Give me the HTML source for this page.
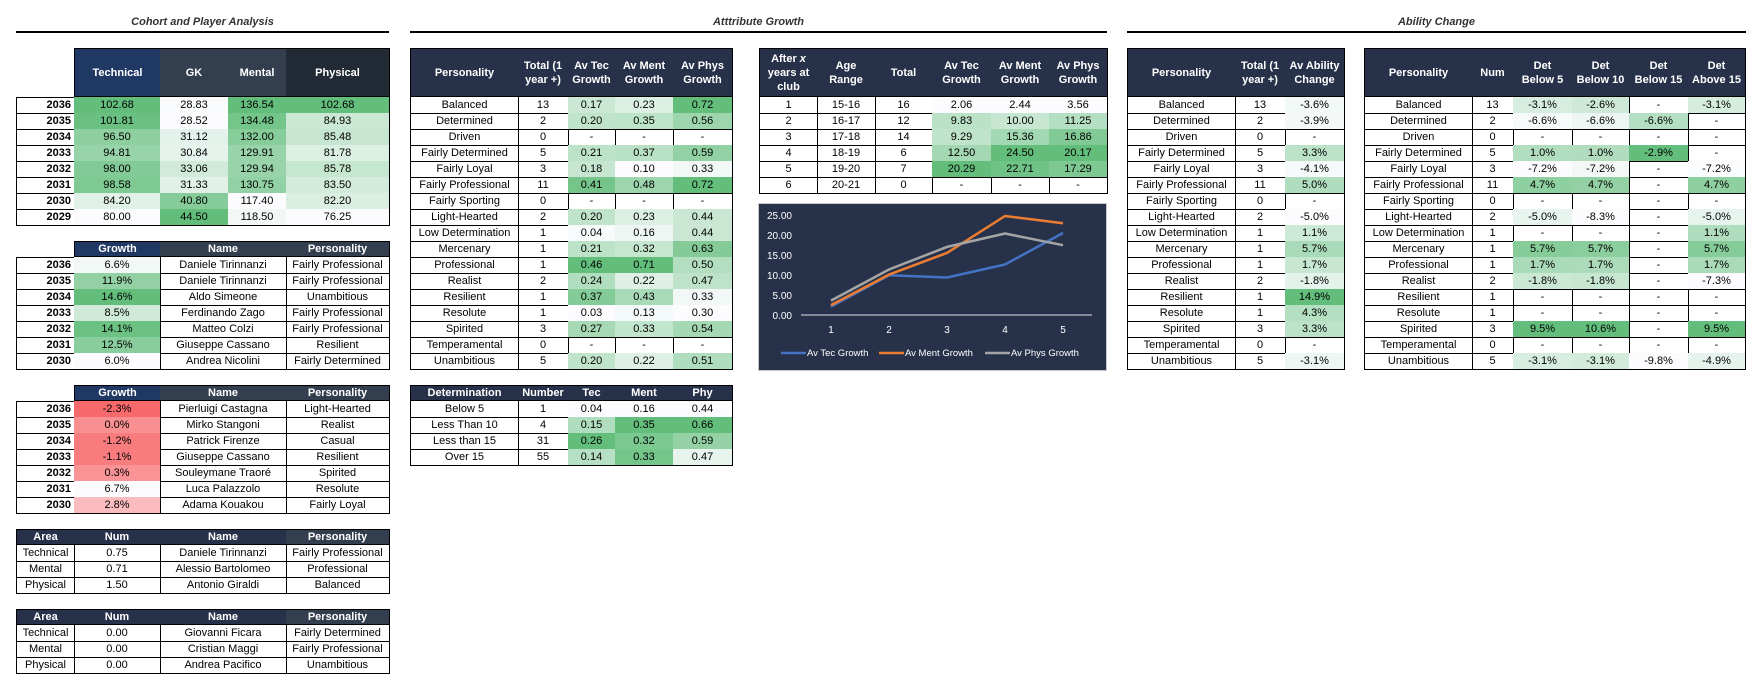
<!DOCTYPE html>
<html><head><meta charset="utf-8">
<style>
body{margin:0;width:1760px;height:683px;background:#fff;position:relative;overflow:hidden;font-family:"Liberation Sans",sans-serif;font-size:11px;color:#000}
.c{position:absolute;box-sizing:border-box;display:flex;align-items:center;justify-content:center;text-align:center;line-height:13px;white-space:nowrap}
.b{border-right:1px solid #000;border-bottom:1px solid #000}
.h{color:#fff;font-weight:bold;white-space:normal;border-right:1px solid #000;border-bottom:1px solid #000;padding:0 3px;line-height:14px}
.t{position:absolute;font-style:italic;font-weight:bold;font-size:11px;color:#333;text-align:center}
.l{position:absolute;height:2px;background:#000}
</style></head><body>
<div class="t" style="left:16px;width:373px;top:16px">Cohort and Player Analysis</div>
<div class="l" style="left:16px;width:373px;top:31px"></div>
<div class="t" style="left:410px;width:697px;top:16px">Atttribute Growth</div>
<div class="l" style="left:410px;width:697px;top:31px"></div>
<div class="t" style="left:1127px;width:619px;top:16px">Ability Change</div>
<div class="l" style="left:1127px;width:619px;top:31px"></div>

<svg style="position:absolute;left:758px;top:203px" width="349" height="168">
<rect x="0.5" y="0.5" width="348" height="167" fill="#27324a" stroke="#c8c8c8"/>
<g font-family="Liberation Sans,sans-serif" font-size="10" fill="#fff" text-anchor="end">
<text x="34" y="16">25.00</text><text x="34" y="36">20.00</text><text x="34" y="56">15.00</text><text x="34" y="76">10.00</text><text x="34" y="96">5.00</text><text x="34" y="116">0.00</text>
</g>
<line x1="43" y1="112" x2="334" y2="112" stroke="#e0e0e0" stroke-width="1"/>
<g font-family="Liberation Sans,sans-serif" font-size="10" fill="#fff" text-anchor="middle">
<text x="73" y="130">1</text><text x="131" y="130">2</text><text x="189" y="130">3</text><text x="247" y="130">4</text><text x="305" y="130">5</text>
</g>
<g fill="none" stroke-width="2.5" stroke-linejoin="round">
<polyline stroke="#4472c4" points="73,103.7 131,72.3 189,74.5 247,61.5 305,30"/>
<polyline stroke="#ed7d31" points="73,102.1 131,71.6 189,49.9 247,13 305,20.2"/>
<polyline stroke="#a5a5a5" points="73,97.6 131,66.5 189,43.9 247,30.5 305,42.2"/>
</g>
<g font-family="Liberation Sans,sans-serif" font-size="9.5" fill="#fff">
<line x1="23" y1="150" x2="48" y2="150" stroke="#4472c4" stroke-width="2.5"/><text x="49" y="153">Av Tec Growth</text>
<line x1="121" y1="150" x2="146" y2="150" stroke="#ed7d31" stroke-width="2.5"/><text x="147" y="153">Av Ment Growth</text>
<line x1="227" y1="150" x2="252" y2="150" stroke="#a5a5a5" stroke-width="2.5"/><text x="253" y="153">Av Phys Growth</text>
</g>
</svg>

<script>
const G=[99,190,123],W=[252,252,255],R=[248,105,107];
function mix(a,b,t){return 'rgb('+a.map((v,i)=>Math.round(v+(b[i]-v)*t)).join(',')+')';}
function num(s){if(s==null||s==='-'||s==='')return null;return parseFloat(String(s).replace('%',''));}
function cell(x,y,w,h,txt,cls,style){const d=document.createElement('div');d.className='c '+cls;d.style.cssText=`left:${x}px;top:${y}px;width:${w}px;height:${h}px;`+(style||'');d.innerHTML='<span>'+txt+'</span>';document.body.appendChild(d);}
function table(xs,y,hh,heads,rows,scale,opts){opts=opts||{};
  const n=xs.length-1;
  let minX=null;
  for(let i=0;i<n;i++){if(heads[i]){cell(xs[i],y,xs[i+1]-xs[i]+1,hh,heads[i][0],'h','background:'+heads[i][1]+';border-top:1px solid #000;'+(minX===null?'border-left:1px solid #000;':''));if(minX===null)minX=i;}}
  const rng=[];for(let i=0;i<n;i++){if(scale&&scale[i]){const v=rows.map(r=>num(r[i])).filter(v=>v!==null);rng[i]=[Math.min(...v),Math.max(...v)];}}
  rows.forEach((r,j)=>{const yy=y+hh+16*j;for(let i=0;i<n;i++){let st='';if(i==0)st+='border-left:1px solid #000;';if(j==0&&!heads[i])st+='border-top:1px solid #000;';
    if(scale&&scale[i]){const v=num(r[i]);if(v!==null){const [a,b]=rng[i];let t=b>a?(v-a)/(b-a):0;
      st+='background:'+(scale[i]=='g'?mix(W,G,t):mix(W,R,1-t))+';';}}
    if(opts.boldFirst&&i==0)st+='font-weight:bold;justify-content:flex-end;padding-right:3px;';
    cell(xs[i],yy,xs[i+1]-xs[i]+1,17,r[i],'b',st);}});
}
const NV='#203864',SL='#333f4f',DK='#222a35',HD='#27324a';
table([16,74,160,228,286,389],48,49,[null,['Technical',NV],['GK',SL],['Mental',SL],['Physical',DK]],
[['2036','102.68','28.83','136.54','102.68'],['2035','101.81','28.52','134.48','84.93'],['2034','96.50','31.12','132.00','85.48'],['2033','94.81','30.84','129.91','81.78'],['2032','98.00','33.06','129.94','85.78'],['2031','98.58','31.33','130.75','83.50'],['2030','84.20','40.80','117.40','82.20'],['2029','80.00','44.50','118.50','76.25']],
[0,'g','g','g','g'],{boldFirst:1});
table([16,74,160,286,389],241,16,[null,['Growth',NV],['Name',SL],['Personality',SL]],
[['2036','6.6%','Daniele Tirinnanzi','Fairly Professional'],['2035','11.9%','Daniele Tirinnanzi','Fairly Professional'],['2034','14.6%','Aldo Simeone','Unambitious'],['2033','8.5%','Ferdinando Zago','Fairly Professional'],['2032','14.1%','Matteo Colzi','Fairly Professional'],['2031','12.5%','Giuseppe Cassano','Resilient'],['2030','6.0%','Andrea Nicolini','Fairly Determined']],
[0,'g',0,0],{boldFirst:1});
table([16,74,160,286,389],385,16,[null,['Growth',NV],['Name',SL],['Personality',SL]],
[['2036','-2.3%','Pierluigi Castagna','Light-Hearted'],['2035','0.0%','Mirko Stangoni','Realist'],['2034','-1.2%','Patrick Firenze','Casual'],['2033','-1.1%','Giuseppe Cassano','Resilient'],['2032','0.3%','Souleymane Traoré','Spirited'],['2031','6.7%','Luca Palazzolo','Resolute'],['2030','2.8%','Adama Kouakou','Fairly Loyal']],
[0,'r',0,0],{boldFirst:1});
table([16,74,160,286,389],529,16,[['Area',HD],['Num',HD],['Name',HD],['Personality',SL]],
[['Technical','0.75','Daniele Tirinnanzi','Fairly Professional'],['Mental','0.71','Alessio Bartolomeo','Professional'],['Physical','1.50','Antonio Giraldi','Balanced']]);
table([16,74,160,286,389],609,16,[['Area',HD],['Num',HD],['Name',HD],['Personality',SL]],
[['Technical','0.00','Giovanni Ficara','Fairly Determined'],['Mental','0.00','Cristian Maggi','Fairly Professional'],['Physical','0.00','Andrea Pacifico','Unambitious']]);
const P=['Balanced','Determined','Driven','Fairly Determined','Fairly Loyal','Fairly Professional','Fairly Sporting','Light-Hearted','Low Determination','Mercenary','Professional','Realist','Resilient','Resolute','Spirited','Temperamental','Unambitious'];
const A=[[13,'0.17','0.23','0.72'],[2,'0.20','0.35','0.56'],[0,'-','-','-'],[5,'0.21','0.37','0.59'],[3,'0.18','0.10','0.33'],[11,'0.41','0.48','0.72'],[0,'-','-','-'],[2,'0.20','0.23','0.44'],[1,'0.04','0.16','0.44'],[1,'0.21','0.32','0.63'],[1,'0.46','0.71','0.50'],[2,'0.24','0.22','0.47'],[1,'0.37','0.43','0.33'],[1,'0.03','0.13','0.30'],[3,'0.27','0.33','0.54'],[0,'-','-','-'],[5,'0.20','0.22','0.51']];
table([410,518,568,615,673,732],48,49,[['Personality',HD],['Total (1<br>year +)',HD],['Av Tec Growth',HD],['Av Ment Growth',HD],['Av Phys Growth',HD]],
P.map((p,i)=>[p,...A[i]]),[0,0,'g','g','g']);
table([410,518,568,615,673,732],385,16,[['Determination',HD],['Number',HD],['Tec',HD],['Ment',HD],['Phy',HD]],
[['Below 5','1','0.04','0.16','0.44'],['Less Than 10','4','0.15','0.35','0.66'],['Less than 15','31','0.26','0.32','0.59'],['Over 15','55','0.14','0.33','0.47']],[0,0,'g','g','g']);
table([759,817,875,932,991,1049,1107],48,49,[['After <i>x</i><br>years at<br>club',HD],['Age<br>Range',HD],['Total',HD],['Av Tec Growth',HD],['Av Ment Growth',HD],['Av Phys Growth',HD]],
[['1','15-16','16','2.06','2.44','3.56'],['2','16-17','12','9.83','10.00','11.25'],['3','17-18','14','9.29','15.36','16.86'],['4','18-19','6','12.50','24.50','20.17'],['5','19-20','7','20.29','22.71','17.29'],['6','20-21','0','-','-','-']],[0,0,0,'g','g','g']);
const AB=[[13,'-3.6%'],[2,'-3.9%'],[0,'-'],[5,'3.3%'],[3,'-4.1%'],[11,'5.0%'],[0,'-'],[2,'-5.0%'],[1,'1.1%'],[1,'5.7%'],[1,'1.7%'],[2,'-1.8%'],[1,'14.9%'],[1,'4.3%'],[3,'3.3%'],[0,'-'],[5,'-3.1%']];
table([1127,1235,1285,1344],48,49,[['Personality',HD],['Total (1<br>year +)',HD],['Av Ability<br>Change',HD]],P.map((p,i)=>[p,...AB[i]]),[0,0,'g']);
const D=[[13,'-3.1%','-2.6%','-','-3.1%'],[2,'-6.6%','-6.6%','-6.6%','-'],[0,'-','-','-','-'],[5,'1.0%','1.0%','-2.9%','-'],[3,'-7.2%','-7.2%','-','-7.2%'],[11,'4.7%','4.7%','-','4.7%'],[0,'-','-','-','-'],[2,'-5.0%','-8.3%','-','-5.0%'],[1,'-','-','-','1.1%'],[1,'5.7%','5.7%','-','5.7%'],[1,'1.7%','1.7%','-','1.7%'],[2,'-1.8%','-1.8%','-','-7.3%'],[1,'-','-','-','-'],[1,'-','-','-','-'],[3,'9.5%','10.6%','-','9.5%'],[0,'-','-','-','-'],[5,'-3.1%','-3.1%','-9.8%','-4.9%']];
table([1364,1472,1513,1572,1629,1688,1745],48,49,[['Personality',HD],['Num',HD],['Det<br>Below 5',HD],['Det<br>Below 10',HD],['Det<br>Below 15',HD],['Det<br>Above 15',HD]],P.map((p,i)=>[p,...D[i]]),[0,0,'g','g','g','g']);
</script>
</body></html>
